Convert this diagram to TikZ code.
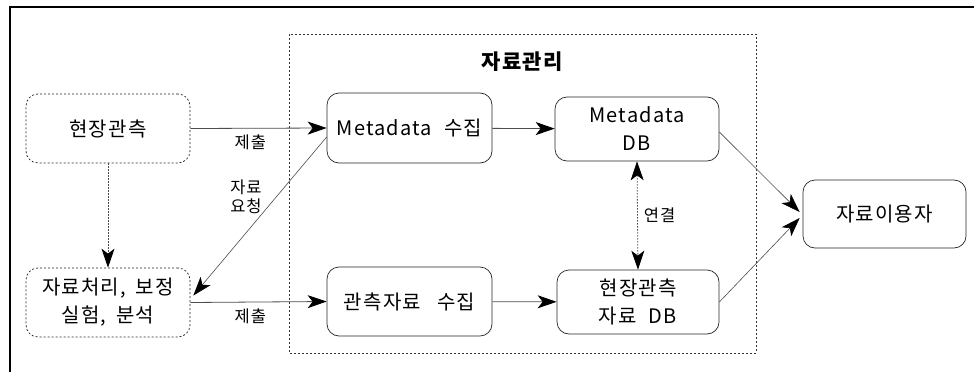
\documentclass[tikz,border=0pt]{standalone}
\usepackage{fontspec}
\setmainfont{Noto Sans CJK KR}[LetterSpace=6]
\usetikzlibrary{arrows.meta}
\tikzset{
  box/.style={draw=black!85, line width=0.7pt, rounded corners=12pt, align=center,
    inner sep=0pt, font=\fontsize{20}{28}\selectfont},
  dbox/.style={box, dash pattern=on 2pt off 2pt},
  conn/.style={draw=black!70, line width=0.8pt, ->},
  lbl/.style={font=\fontsize{16.5}{18.5}\selectfont, align=center, inner sep=1pt},
}
\begin{document}
\begin{tikzpicture}[x=1pt,y=-1pt, >={Stealth[length=19pt,width=13pt,inset=5pt,color=black]}]
\useasboundingbox (0,0) rectangle (974,372);
\draw[line width=2pt] (10,372) -- (10,7) -- (974,7);
\draw[black!80, line width=0.7pt, dash pattern=on 2pt off 2pt] (289,34) rectangle (756,353);
\node[font=\fontsize{21}{24}\selectfont\bfseries] (title) at (522,62) {자료관리};
\node[dbox, minimum width=164pt, minimum height=69pt] (obs) at (108,128.5) {현장관측};
\node[dbox, minimum width=164pt, minimum height=69pt] (proc) at (108,302.5) {자료처리,\hspace{0.5em}보정\\실험,\hspace{0.5em}분석};
\node[box, minimum width=165pt, minimum height=70pt] (mcol) at (409.5,128) {Metadata\hspace{0.6em}수집};
\node[box, minimum width=165pt, minimum height=69pt] (ocol) at (409.5,301.5) {관측자료\hspace{0.8em}수집};
\node[box, minimum width=164pt, minimum height=64pt] (mdb) at (637,129) {Metadata\\DB};
\node[box, minimum width=162pt, minimum height=64pt] (odb) at (638,302) {현장관측\\자료\hspace{0.6em}DB};
\node[box, minimum width=163pt, minimum height=68pt] (user) at (884.5,214) {자료이용자};
\draw[conn] (obs.east) -- node[lbl, pos=0.44, below=5pt] (l1) {제출} (mcol.west);
\draw[conn] (mcol) -- (mdb);
\draw[conn, line width=0.6pt] ([yshift=-9pt]mcol.west) -- ([yshift=7pt,xshift=3pt]proc.east);
\node[lbl] (l2) at (246,197) {자료\\요청};
\draw[conn, dash pattern=on 1.5pt off 1.5pt] (obs.south) -- (proc.north);
\draw[conn] (proc.east) -- node[lbl, pos=0.44, below=5pt] (l3) {제출} (ocol.west);
\draw[conn] (ocol) -- (odb);
\draw[conn, <->, dash pattern=on 1.5pt off 1.5pt] (mdb.south) -- node[lbl, right=5pt] (l4) {연결} (odb.north);
\draw[conn, line width=0.6pt] ([yshift=-3pt]mdb.east) -- ([yshift=2pt,xshift=-3pt]user.west);
\draw[conn, line width=0.6pt] (odb.east) -- ([yshift=-4pt,xshift=-3pt]user.west);
\end{tikzpicture}
\end{document}
